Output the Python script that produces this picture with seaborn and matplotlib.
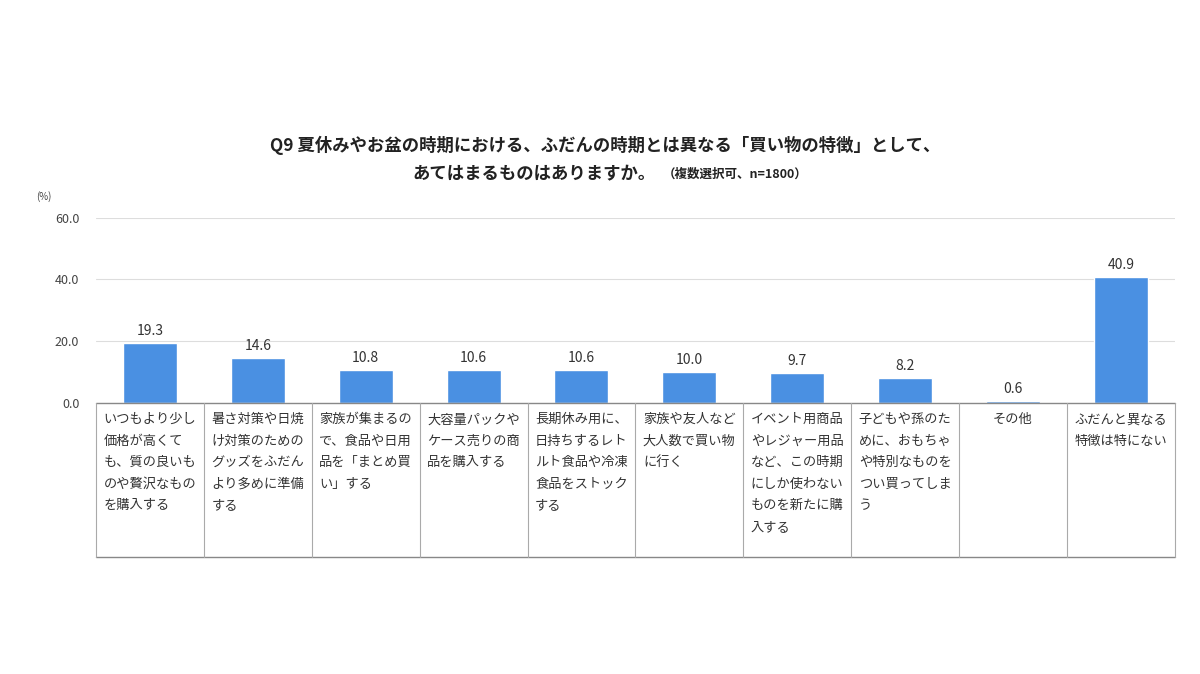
import numpy as np
import seaborn as sns
import matplotlib.pyplot as plt
from matplotlib.transforms import blended_transform_factory

sns.set_theme(style="white")
plt.rcParams['font.family'] = ['Noto Sans CJK JP', 'DejaVu Sans']

labels = [
    "いつもより少し\n価格が高くて\nも、質の良いも\nのや贅沢なもの\nを購入する",
    "暑さ対策や日焼\nけ対策のための\nグッズをふだん\nより多めに準備\nする",
    "家族が集まるの\nで、食品や日用\n品を「まとめ買\nい」する",
    "大容量パックや\nケース売りの商\n品を購入する",
    "長期休み用に、\n日持ちするレト\nルト食品や冷凍\n食品をストック\nする",
    "家族や友人など\n大人数で買い物\nに行く",
    "イベント用商品\nやレジャー用品\nなど、この時期\nにしか使わない\nものを新たに購\n入する",
    "子どもや孫のた\nめに、おもちゃ\nや特別なものを\nつい買ってしま\nう",
    "その他",
    "ふだんと異なる\n特徴は特にない",
]
values = [19.3, 14.6, 10.8, 10.6, 10.6, 10.0, 9.7, 8.2, 0.6, 40.9]
centered = [False] * 8 + [True, False]

fig = plt.figure(figsize=(12, 6.74), dpi=100)
ax = fig.add_axes([0.08, 0.402, 0.899, 0.275])
x = np.arange(len(values))
sns.barplot(x=x, y=values, color="#4a90e2", saturation=1, width=0.5, ax=ax)

ax.set_ylim(0, 60)
ax.set_xlim(-0.5, len(values) - 0.5)
ax.set_yticks([0, 20, 40, 60])
ax.set_yticklabels(["0.0", "20.0", "40.0", "60.0"], fontsize=9, color="#444444")
ax.set_xticks([])
ax.tick_params(axis='y', length=0, pad=12)
ax.yaxis.grid(True, color="#dddddd", lw=0.8)
for s in ax.spines.values():
    s.set_visible(False)

for xi, v in zip(x, values):
    ax.text(xi, v + 1.6, f"{v:.1f}", ha='center', va='bottom', fontsize=10, color="#333333")

# category table under the bars
tr = blended_transform_factory(ax.transData, ax.transAxes)
bottom = -0.832
ax.plot([-0.5, len(values) - 0.5], [0, 0], transform=tr, color="#888888", lw=1, clip_on=False)
ax.plot([-0.5, len(values) - 0.5], [bottom, bottom], transform=tr, color="#888888", lw=1, clip_on=False)
for i in range(len(values) + 1):
    ax.plot([i - 0.5, i - 0.5], [0, bottom], transform=tr, color="#aaaaaa", lw=0.8, clip_on=False)
for i, (lab, c) in enumerate(zip(labels, centered)):
    ax.text(i if c else i - 0.43, -0.055, lab, transform=tr, ha='center' if c else 'left',
            va='top', fontsize=9.5, color="#333333", linespacing=1.85)

fig.text(0.03, 0.703, "(%)", fontsize=7, color="#444444")
fig.text(0.504, 0.785, "Q9 夏休みやお盆の時期における、ふだんの時期とは異なる「買い物の特徴」として、",
         ha='center', va='center', fontsize=12.5, fontweight='bold', color="#222222")
fig.text(0.546, 0.741, "あてはまるものはありますか。", ha='right', va='center',
         fontsize=12.5, fontweight='bold', color="#222222")
fig.text(0.552, 0.741, "（複数選択可、n=1800）", ha='left', va='center',
         fontsize=9, fontweight='bold', color="#222222")

fig.savefig("out.png", dpi=100)
